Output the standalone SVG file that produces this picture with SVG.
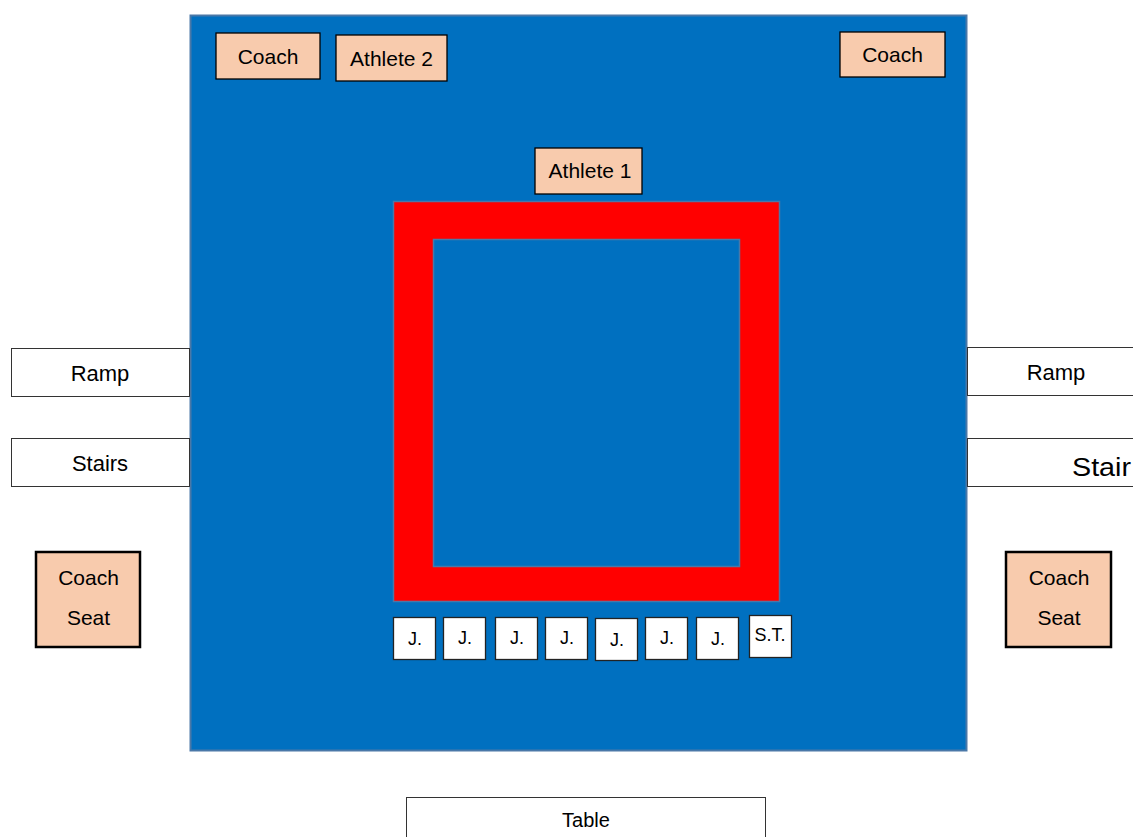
<svg xmlns="http://www.w3.org/2000/svg" width="1133" height="837" viewBox="0 0 1133 837">
<style>
text{font-family:"Liberation Sans",Arial,sans-serif;font-size:21px;fill:#000;text-anchor:middle;dominant-baseline:central}
.peach{fill:#F8CBAD;stroke:#000;stroke-width:1.3}
.seat{fill:#F8CBAD;stroke:#000;stroke-width:2.5}
.white{fill:#fff;stroke:#333;stroke-width:1}
.judge{fill:#fff;stroke:#222;stroke-width:1.3}
.small{font-size:18px}
.big{font-size:22px}
</style>
<rect width="1133" height="837" fill="#fff"/>
<g id="floor">
<rect x="190.5" y="15.5" width="776" height="735" fill="#0070C0" stroke="#4A78A8" stroke-width="2"/>
</g>
<g id="ring">
<rect x="393.5" y="201.5" width="386" height="400" fill="#FF0000" stroke="#4A78A8" stroke-width="1.5"/>
<rect x="433.5" y="239.5" width="306" height="327" fill="#0070C0" stroke="#4A78A8" stroke-width="1.5"/>
</g>
<g id="coach-top-left"><rect class="peach" x="216" y="33" width="104" height="46"/><text x="268" y="56">Coach</text></g>
<g id="athlete-2"><rect class="peach" x="336" y="35" width="111" height="46"/><text x="391.5" y="58">Athlete 2</text></g>
<g id="coach-top-right"><rect class="peach" x="840" y="32" width="105" height="45"/><text x="892.5" y="54">Coach</text></g>
<g id="athlete-1"><rect class="peach" x="535" y="148" width="107" height="46"/><text x="590" y="170">Athlete 1</text></g>
<g id="ramp-left"><rect class="white" x="11.5" y="348.5" width="178" height="48"/><text class="big" x="100" y="373">Ramp</text></g>
<g id="stairs-left"><rect class="white" x="11.5" y="438.5" width="178" height="48"/><text class="big" x="100" y="463">Stairs</text></g>
<g id="ramp-right"><rect class="white" x="967.5" y="347.5" width="180" height="48"/><text class="big" x="1056" y="372">Ramp</text></g>
<g id="stairs-right"><rect class="white" x="967.5" y="438.5" width="180" height="48"/><text x="1072" y="467" style="font-size:25px;text-anchor:start" textLength="59" lengthAdjust="spacingAndGlyphs">Stair</text></g>
<g id="coach-seat-left"><rect class="seat" x="36" y="552" width="104" height="95"/><text x="88.5" y="577">Coach</text><text x="88.5" y="617">Seat</text></g>
<g id="coach-seat-right"><rect class="seat" x="1006" y="552" width="105" height="95"/><text x="1059" y="577">Coach</text><text x="1059" y="617">Seat</text></g>
<g id="judge-1"><rect class="judge" x="393.5" y="617.5" width="42" height="42"/><text class="small" x="415" y="639">J.</text></g>
<g id="judge-2"><rect class="judge" x="443.5" y="617.5" width="42" height="42"/><text class="small" x="465" y="638">J.</text></g>
<g id="judge-3"><rect class="judge" x="495.5" y="617.5" width="42" height="42"/><text class="small" x="517" y="638">J.</text></g>
<g id="judge-4"><rect class="judge" x="545.5" y="617.5" width="42" height="42"/><text class="small" x="567" y="638">J.</text></g>
<g id="judge-5"><rect class="judge" x="595.5" y="618.5" width="42" height="42"/><text class="small" x="617" y="640">J.</text></g>
<g id="judge-6"><rect class="judge" x="645.5" y="617.5" width="42" height="42"/><text class="small" x="667" y="638">J.</text></g>
<g id="judge-7"><rect class="judge" x="696.5" y="617.5" width="42" height="42"/><text class="small" x="718" y="639">J.</text></g>
<g id="score-table"><rect class="judge" x="749.5" y="615.5" width="42" height="42"/><text class="small" x="770" y="635">S.T.</text></g>
<g id="table"><rect class="white" x="406.5" y="797.5" width="359" height="50"/><text style="font-size:20px" x="586" y="820">Table</text></g>
<g id="connectors"></g>
</svg>
